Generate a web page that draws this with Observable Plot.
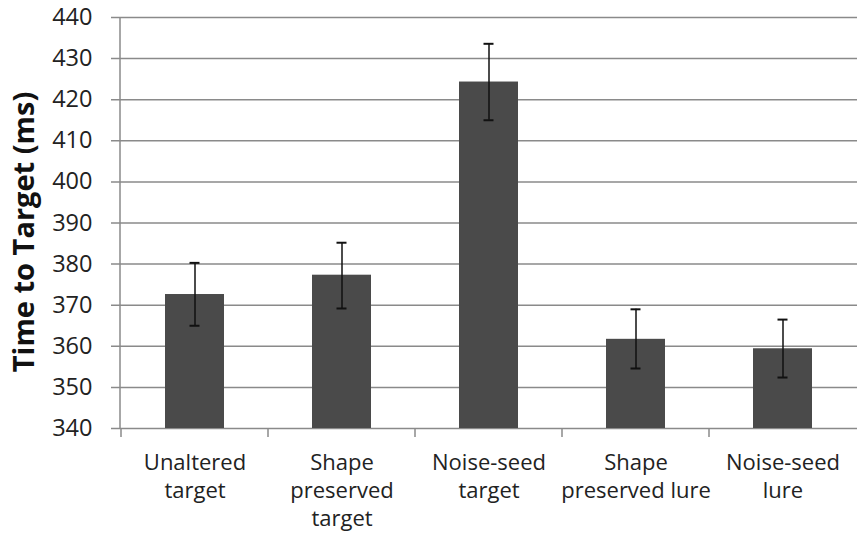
<!DOCTYPE html>
<html>
<head>
<meta charset="utf-8">
<script src="https://cdn.jsdelivr.net/npm/d3@7"></script>
<script src="https://cdn.jsdelivr.net/npm/@observablehq/plot@0.6"></script>
<style>
  html, body { margin: 0; padding: 0; background: #fff; }
  #chart svg { display: block; }
</style>
</head>
<body>
<div id="chart"></div>
<script>
const categories = ["Unaltered\ntarget", "Shape\npreserved\ntarget", "Noise-seed\ntarget", "Shape\npreserved lure", "Noise-seed\nlure"];
const means = [372.6, 377.3, 424.3, 361.7, 359.4];
const errLow = [365.0, 369.2, 415.0, 354.6, 352.4];
const errHigh = [380.3, 385.2, 433.6, 369.0, 366.5];
const yTicks = [340, 350, 360, 370, 380, 390, 400, 410, 420, 430, 440];
const yTitle = "Time to Target (ms)";

const data = categories.map((c, i) => ({cat: c, mean: means[i], lo: errLow[i], hi: errHigh[i]}));

const font = "'Open Sans', Lato, sans-serif";
const grid = "#8a8a8a";

const chart = Plot.plot({
  width: 857,
  height: 534,
  marginLeft: 120,
  marginRight: 0,
  marginTop: 17,
  marginBottom: 106,
  style: {fontFamily: font, color: "#222", background: "#fff"},
  x: {domain: categories, paddingInner: 0.6, paddingOuter: 0.3, label: null},
  y: {domain: [340, 440], label: null},
  marks: [
    Plot.ruleY(yTicks, {stroke: grid, strokeWidth: 1.5, insetLeft: -9}),
    Plot.barY(data, {x: "cat", y1: 340, y2: "mean", fill: "#4a4a4a"}),
    Plot.ruleX(data, {x: "cat", y1: "lo", y2: "hi", stroke: "#111", strokeWidth: 1.5}),
    Plot.tickY(data, {x: "cat", y: "lo", stroke: "#111", strokeWidth: 2, insetLeft: 24.5, insetRight: 24.5}),
    Plot.tickY(data, {x: "cat", y: "hi", stroke: "#111", strokeWidth: 2, insetLeft: 24.5, insetRight: 24.5}),
    Plot.axisY({ticks: yTicks, tickSize: 0, tickPadding: 28, fontSize: 23.5, label: null, fill: "#222"}),
    Plot.axisX({tickSize: 0, tickPadding: 21, fontSize: 22, lineHeight: 1.29, label: null, fill: "#222"}),
    Plot.text([yTitle], {frameAnchor: "left", textAnchor: "middle", rotate: -90, dx: -96, dy: 9, fontSize: 29, fontWeight: "bold", fill: "#111"})
  ]
});

// left axis line and category boundary ticks drawn from Plot's own scales
const xs = chart.scale("x");
const ys = chart.scale("y");
const svg = d3.select(chart);
const step = xs.step;
const x0 = xs.range[0];
const yBottom = ys.apply(ys.domain[0]);
const yTop = ys.apply(ys.domain[1]);
const g = svg.append("g").attr("stroke", grid).attr("stroke-width", 1.5);
g.append("line").attr("x1", x0).attr("x2", x0).attr("y1", yTop).attr("y2", yBottom + 1);
categories.forEach((c, i) => {
  const bx = xs.apply(c) - (step - xs.bandwidth) / 2;
  g.append("line").attr("x1", bx).attr("x2", bx).attr("y1", yBottom).attr("y2", yBottom + 9);
});

document.getElementById("chart").appendChild(chart);
</script>
</body>
</html>
